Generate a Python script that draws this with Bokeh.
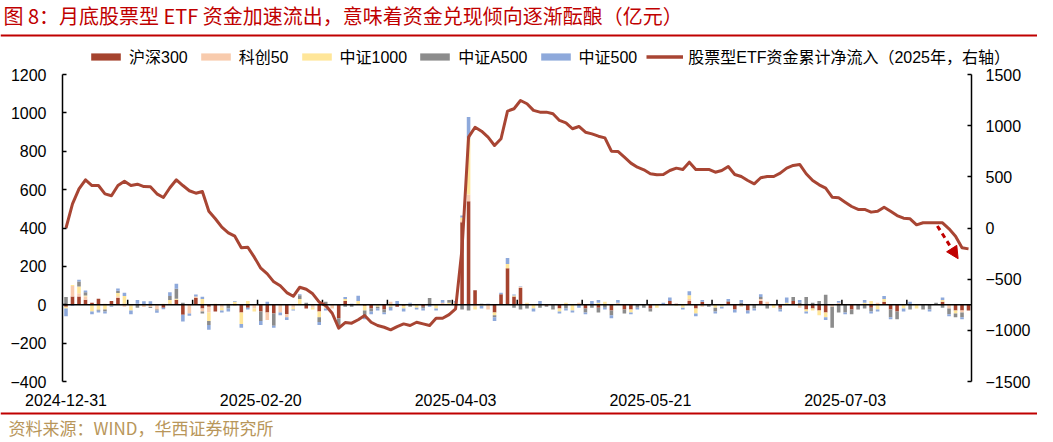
from bokeh.plotting import figure
from bokeh.models import (Range1d, LinearAxis, FixedTicker, Span, Legend, LegendItem,
                          Arrow, NormalHead, ColumnDataSource, Label)
from bokeh.layouts import column
from bokeh.embed import file_html
from bokeh.resources import INLINE

# ---------------- data ----------------
tick_index = [0, 30, 60, 90, 120]
tick_labels = ["2024-12-31", "2025-02-20", "2025-04-03", "2025-05-21", "2025-07-03"]

series_names = ["沪深300", "科创50", "中证1000", "中证A500", "中证500"]
line_name = "股票型ETF资金累计净流入（2025年，右轴）"
title_text = "图 8：月底股票型 ETF 资金加速流出，意味着资金兑现倾向逐渐酝酿（亿元）"
source_text = "资料来源：WIND，华西证券研究所"

hs300 = [-10, 43, 43, 26, 10, 31, 0, 20, 35, 5,
         0, 0, 0, 0, 0, -15, 5, 26, -52, 0,
         35, -20, -10, -35, 0, 0, 0, -40, -15, 0,
         -35, -40, -45, 0, -50, 0, 0, -20, 0, -35,
         0, 0, -70, 20, 0, 0, -5, -20, 0, -25,
         0, -10, -5, 0, 0, -10, 0, 0, 0, 0,
         0, 430, 540, 75, 0, 0, -40, 55, 190, 43,
         87, 5, 0, 0, -5, 0, -20, 0, 0, 0,
         -20, 0, -15, 0, -30, 0, -25, -25, 0, 0,
         -20, 0, 0, 20, 5, 0, 20, -20, 15, 0,
         0, 0, 15, -25, 0, -30, 0, 20, 0, 0,
         -15, 0, 20, 0, -25, -20, -30, -40, 0, 0,
         0, -25, 0, 0, -15, 0, 15, -25, -35, 0,
         0, 0, 0, 0, 0, 15, 0, -30, -30, -30]

kc50 = [0, 55, 17, 17, 0, 0, 5, 0, 9, -10,
        -5, 5, -12, -12, -25, 0, 0, 0, 0, -45,
        8, -15, -30, 0, -15, 0, -5, 0, 0, -20,
        0, -40, 0, -40, -15, -15, 0, 0, -15, 0,
        -15, -20, 0, 0, 0, 0, 0, 0, 0, 0,
        15, 0, 0, 0, 0, 0, 0, 0, 10, 0,
        5, 10, 35, -10, 0, -25, 0, 0, 0, 0,
        7, 0, 0, 0, 0, 0, 0, 0, 0, 10,
        0, 0, 0, 0, 0, 10, 0, 0, 0, 0,
        0, 0, 0, 0, 0, 0, 10, 0, -10, 0,
        0, 0, 0, 0, -10, 0, 0, 10, 15, 0,
        0, 0, 0, -15, 0, 0, 0, 0, -10, 10,
        0, 0, 0, 0, 0, 10, 0, 0, 0, 0,
        0, 0, 0, 0, 0, 0, -20, 0, -10, 0]

zz1000 = [-10, 5, 35, 5, -35, -26, -25, -5, 17, 40,
          -25, 0, 0, 0, 0, 5, 20, 5, 0, 0,
          0, 30, -45, 5, -15, 5, 15, -60, 20, -15,
          0, 0, 0, 0, 0, -10, 30, 0, -10, -30,
          -5, 0, 0, 10, 0, 20, -25, 0, -10, 0,
          -10, 0, -15, 5, -15, 0, 0, -20, 0, 10,
          5, 15, 290, -15, -5, 0, -15, 0, 23, 5,
          0, 5, -20, 0, 0, 0, -15, 10, -30, 0,
          0, 0, 10, 15, 0, 0, 0, -15, 0, 0,
          0, -15, 0, 0, -5, -15, 20, -25, 0, 0,
          -15, -10, 0, 0, 0, 0, 0, 0, 0, -15,
          0, 10, 0, 0, -10, -10, -25, -25, 0, 0,
          0, 0, 0, 10, 20, -25, 15, 0, 0, -20,
          0, -20, 0, 0, 0, 10, 0, -15, 0, 0]

a500 = [40, 0, 26, 17, 0, -5, -10, 0, 12, 0,
        0, -15, 0, -5, -5, 0, 20, 52, 10, 0,
        0, -10, -20, 0, 0, -20, 0, 0, 0, 0,
        -50, 0, -65, 0, 0, 0, 20, 10, 0, -25,
        15, 0, -45, -10, -10, 0, -25, -15, -10, -15,
        -5, 0, 0, -10, 0, -10, 35, 0, 0, 15,
        0, -25, -30, 0, 5, 0, -10, 0, 0, -15,
        -25, -20, 0, -15, -5, -25, 0, -20, 0, 0,
        -20, -15, -25, -15, -25, 0, -20, 0, -15, -15,
        -15, 0, 0, 0, 0, 0, 0, 0, 0, -10,
        -20, 0, 5, 0, 10, 0, -20, 10, -20, 0,
        -10, 0, 20, 10, 40, 10, 20, 52, -110, -40,
        -40, -25, -25, -20, -20, 0, 0, -40, -40, 0,
        -25, 0, -25, -25, 10, -15, -30, -20, -25, 0]

zz500 = [-40, -5, 9, 9, -15, -9, -10, -5, 12, 17,
         -20, 20, 18, 18, -12, -8, 20, 26, -35, -12,
         10, 12, -25, 0, -10, -15, 5, -20, -10, 0,
         -20, 15, -10, -15, -15, -5, 5, 0, 0, -15,
         -10, 0, -5, 10, 5, 27, -20, -15, -10, -10,
         -15, 20, -15, 5, -10, -10, -10, -10, 15, 0,
         10, 10, 113, 0, -15, 5, -20, 8, 30, 5,
         3, 0, -15, 20, 0, 0, -10, -10, -10, -15,
         -10, 20, 15, -10, -15, 15, 0, -10, -10, 0,
         0, 0, 10, 18, 0, -10, 20, -15, 10, 0,
         -10, -10, 10, -15, 15, -15, -10, 15, 0, 0,
         -10, 28, 0, 15, -10, 0, 0, -15, 0, 10,
         -10, 0, 0, 15, -10, -10, 15, -10, 0, -15,
         15, 0, 0, -10, 0, 13, -10, 0, -10, 0]

cum_flow = [0, 236, 383, 471, 415, 415, 334, 315, 415, 457,
            415, 428, 405, 403, 334, 298, 393, 471, 415, 364,
            340, 357, 164, 90, 8, -47, -80, -194, -188, -285,
            -393, -448, -526, -565, -631, -667, -579, -598, -643, -725,
            -758, -833, -979, -924, -930, -897, -855, -921, -953, -970,
            -995, -963, -937, -953, -921, -937, -953, -882, -882, -846,
            -790, -200, 888, 985, 946, 888, 806, 872, 1142, 1165,
            1246, 1214, 1149, 1132, 1132, 1116, 1051, 1028, 970, 992,
            936, 920, 897, 881, 751, 748, 692, 634, 594, 569,
            530, 520, 523, 562, 585, 572, 643, 572, 572, 572,
            545, 562, 601, 523, 503, 464, 432, 491, 503, 503,
            536, 585, 611, 621, 530, 464, 422, 389, 301, 295,
            252, 210, 181, 181, 155, 164, 203, 164, 122, 96,
            90, 31, 51, 51, 51, 51, -8, -80, -194, -204]

# annotation arrow (x in trading-day index, y on right axis)
arrow_from = (134.2, 20)
arrow_to = (137.4, -300)

# ---------------- styles ----------------
colors = ["#A5432E", "#F8CBAD", "#FFE699", "#8C8C8C", "#8EA9DB"]
line_color = "#A84533"
red = "#C00000"
num_font = "Liberation Sans"
cjk_font = "Liberation Sans, Noto Sans CJK SC"

W = 1037
HDR_H, MAIN_H, FTR_H = 67, 344, 30
FL, FR, FT, FB = 62, 66, 7, 30

n = len(cum_flow)
data = dict(x=list(range(n)), cum=cum_flow)
keys = ["hs300", "kc50", "zz1000", "a500", "zz500"]
for k, arr in zip(keys, [hs300, kc50, zz1000, a500, zz500]):
    data[k + "_p"] = [max(v, 0) for v in arr]
    data[k + "_n"] = [min(v, 0) for v in arr]
src = ColumnDataSource(data)


def blank_fig(h):
    f = figure(width=W, height=h, output_backend="svg", toolbar_location=None,
               x_range=Range1d(0, W), y_range=Range1d(h, 0),
               x_axis_type=None, y_axis_type=None, frame_align=False,
               min_border_left=0, min_border_right=0, min_border_top=0, min_border_bottom=0)
    f.xgrid.visible = False
    f.ygrid.visible = False
    f.outline_line_color = None
    f.background_fill_color = "white"
    f.border_fill_color = "white"
    return f


# ---------------- header: title, rule, legend ----------------
hdr = blank_fig(HDR_H)
hdr.add_layout(Label(x=3, y=15, text=title_text, text_color=red, text_font="Noto Sans CJK SC",
                     text_font_size="20px", text_baseline="middle", text_align="left"))
hdr.add_layout(Span(location=35, dimension="width", line_color=red, line_width=2))
# legend proxies (zero-size marks, only their styles are used by the legend)
proxy_src = ColumnDataSource(dict(x=[0], y=[0]))
proxies = [hdr.vbar(x="x", top="y", width=0, fill_color=c, line_color=None, source=proxy_src)
           for c in colors]
proxy_line = hdr.line(x="x", y="y", line_color=line_color, line_width=3.5, source=proxy_src)
items = [LegendItem(label=nm, renderers=[r]) for nm, r in zip(series_names, proxies)]
items.append(LegendItem(label=line_name, renderers=[proxy_line]))
legend = Legend(items=items, orientation="horizontal", location=(87, -1),
                label_text_font=cjk_font, label_text_font_size="16px",
                label_text_color="black", glyph_width=37, glyph_height=9, label_height=16,
                label_standoff=5, spacing=9, padding=0, margin=0,
                border_line_color=None, background_fill_alpha=0)
hdr.add_layout(legend, "center")

# ---------------- main chart ----------------
p = figure(width=W, height=MAIN_H, output_backend="svg", toolbar_location=None,
           x_range=Range1d(-0.54, n - 1 + 0.46), y_range=Range1d(-400, 1200), frame_align=False,
           min_border_left=FL, min_border_right=FR, min_border_top=FT, min_border_bottom=FB)
p.extra_y_ranges = {"right": Range1d(-1500, 1500)}
p.xgrid.visible = False
p.ygrid.visible = False
p.outline_line_color = None
p.background_fill_color = "white"
p.border_fill_color = "white"

p.vbar_stack([k + "_p" for k in keys], x="x", width=0.55, fill_color=colors,
             line_color=None, source=src)
p.vbar_stack([k + "_n" for k in keys], x="x", width=0.55, fill_color=colors,
             line_color=None, source=src)

p.add_layout(Span(location=0, dimension="width", line_color="black", line_width=1.5))
bounds = [i + 0.5 for i in range(9, n - 1, 10)]
p.segment(x0=bounds, y0=[0] * len(bounds), x1=bounds, y1=[26] * len(bounds),
          line_color="black", line_width=1.5)

p.line("x", "cum", source=src, y_range_name="right", line_color=line_color,
       line_width=3, line_join="round")

p.add_layout(Arrow(end=NormalHead(size=12, fill_color=red, line_color=red),
                   x_start=arrow_from[0], y_start=arrow_from[1],
                   x_end=arrow_to[0], y_end=arrow_to[1], y_range_name="right",
                   line_color=red, line_width=3, line_dash="5 4"))

yl = p.yaxis[0]
yl.ticker = FixedTicker(ticks=list(range(-400, 1201, 200)))
yr = LinearAxis(y_range_name="right", ticker=FixedTicker(ticks=list(range(-1500, 1501, 500))))
p.add_layout(yr, "right")
for ax in (yl, yr):
    ax.axis_line_color = "black"
    ax.axis_line_width = 1.5
    ax.major_tick_in = 4
    ax.major_tick_out = 0
    ax.major_tick_line_color = "black"
    ax.major_tick_line_width = 1.5
    ax.minor_tick_line_color = None
    ax.major_label_text_font = num_font
    ax.major_label_text_font_size = "16px"
    ax.major_label_text_color = "black"
yl.major_label_standoff = 16
yr.major_label_standoff = 14

xa = p.xaxis[0]
xa.ticker = FixedTicker(ticks=tick_index)
xa.major_label_overrides = {i: s for i, s in zip(tick_index, tick_labels)}
xa.axis_line_color = None
xa.major_tick_line_color = None
xa.minor_tick_line_color = None
xa.major_label_standoff = 6
xa.major_label_text_font = num_font
xa.major_label_text_font_size = "16px"
xa.major_label_text_color = "black"

# ---------------- footer: rule and source ----------------
ftr = blank_fig(FTR_H)
ftr.add_layout(Span(location=2, dimension="width", line_color=red, line_width=2))
ftr.add_layout(Label(x=8, y=16, text=source_text, text_color="#B8965A",
                     text_font="Noto Sans CJK SC", text_font_size="17px",
                     text_baseline="middle", text_align="left"))

page = column(hdr, p, ftr, spacing=0)
open("out.html", "w").write(file_html(page, INLINE))
